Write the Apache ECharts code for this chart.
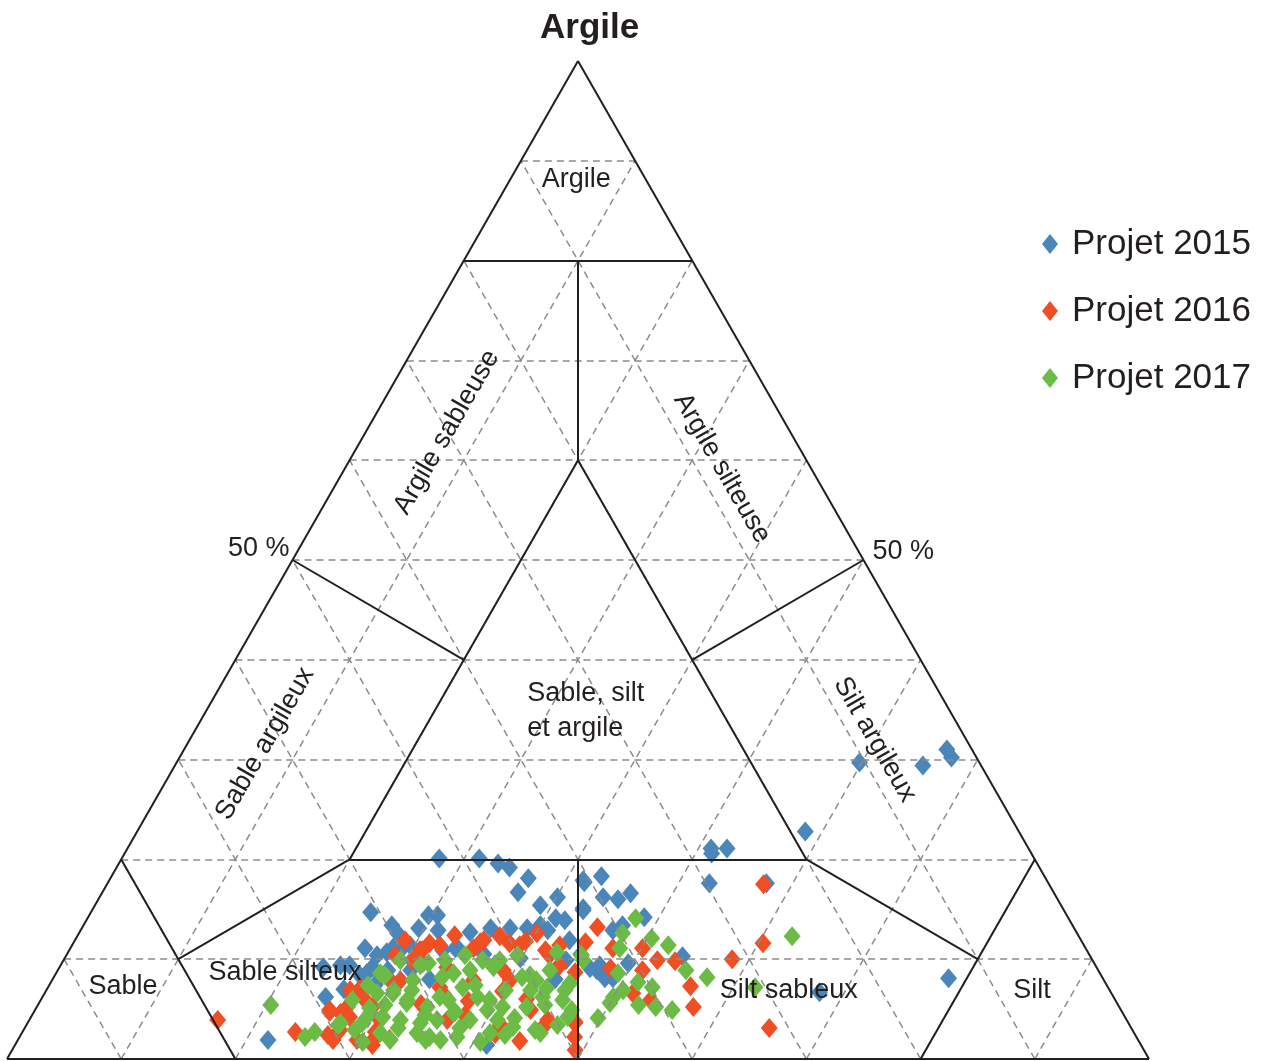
<!DOCTYPE html>
<html>
<head>
<meta charset="utf-8">
<title>Triangle des textures</title>
<script src="https://cdn.jsdelivr.net/npm/echarts@6/dist/echarts.min.js"></script>
<style>
  html, body { margin: 0; padding: 0; background: #fff; }
  #chart { width: 1274px; height: 1061px; }
</style>
</head>
<body>
<div id="chart"></div>
<script>
// points are [silt %, argile %] (sable = 100 - silt - argile)
var projet2015 = [
  [59.8,29.7],[65.5,29.4],[66.8,31.0],[67.6,30.2],[58.5,22.8],[51.1,21.1],[52.5,21.1],[51.4,20.6],
  [52.7,17.6],[57.7,17.6],[78.4,8.1],[67.8,6.7],
  [27.8,20.1],[31.3,20.1],[33.2,19.6],[34.4,19.2],[36.6,18.1],[36.4,16.7],[40.1,16.2],[41.5,17.9],
  [42.9,15.1],[24.5,14.7],[27.0,13.4],[27.9,12.6],[29.5,13.1],[29.7,14.4],[30.5,14.4],[31.3,12.9],
  [35.8,13.1],[39.0,13.1],[40.0,13.4],[40.9,12.9],[41.9,13.9],[43.3,11.9],[25.8,11.1],[27.2,10.4],
  [27.9,10.7],[29.0,10.9],[27.4,9.2],[28.9,8.9],[30.9,8.9],[27.2,8.6],[31.6,9.6],[32.7,10.9],
  [33.8,11.2],[39.9,10.1],[43.6,9.1],[41.3,1.4],[21.9,1.9],
  [41.7,17.7],[42.9,18.3],[44.1,16.2],[45.5,16.0],[46.3,16.6],[43.0,14.9],[48.7,14.2],[47.2,13.4],
  [54.0,10.3],[47.2,8.9],[46.5,9.1],[49.6,9.6],[48.3,8.1],[46.6,12.9],[23.1,9.2],[24.5,9.4],
  [26.0,7.0],[24.8,6.2],[28.5,7.5],[33.0,8.0],[36.5,10.5],[38.0,9.5],[45.0,10.5],[44.0,8.0],
  [25.3,9.4],[26.7,8.4],[28.5,7.4],[28.3,11.4],[29.6,11.4],[33.7,11.1],[34.2,12.7],[37.5,13.1],
  [39.0,15.4],[41.0,14.1],[44.0,9.9],[47.2,9.4],[49.0,8.1]
];
var projet2016 = [
  [57.5,17.5],[45.1,13.2],[44.8,11.7],[50.1,11.1],[52.0,9.9],[53.6,9.8],[56.2,7.3],[57.5,5.2],
  [58.5,10.0],[60.4,11.6],[65.2,3.1],[53.4,5.9],[51.5,6.6],[48.6,2.2],[47.9,3.6],[48.3,9.1],
  [51.2,8.9],[47.5,11.1],
  [40.1,12.6],[38.2,11.6],[35.8,11.9],[35.3,11.1],[31.2,11.6],[30.9,10.9],[30.5,9.9],[33.9,9.2],
  [39.0,8.9],[30.5,7.9],[29.6,7.9],[27.4,7.1],[27.2,6.2],[27.2,5.2],[26.9,4.6],[29.4,5.2],
  [30.7,3.9],[30.9,2.7],[34.3,7.2],[36.6,3.9],[36.9,7.9],[43.4,4.9],[45.4,3.9],[42.3,10.4],
  [45.4,8.7],[47.9,3.7],[25.8,4.9],[27.6,1.9],[38.3,4.1],
  [16.5,3.9],[23.9,2.7],[25.9,4.7],[26.9,2.4],[27.9,4.2],[31.1,1.9],
  [33.5,5.5],[35.0,6.5],[37.5,5.8],[40.0,6.8],[41.5,2.5],[44.0,1.8],[32.5,2.0],[39.5,11.8],
  [37.0,12.3],[42.5,6.0],
  [28.9,11.9],[32.2,11.4],[33.0,12.4],[35.6,11.7],[39.2,11.4],[41.7,10.9],[42.7,11.4],[26.6,6.9],
  [28.4,5.9],[27.7,2.9],[31.3,1.4],[29.7,1.9],[30.7,10.9],[28.8,10.4],[37.9,4.4],[41.5,3.4],
  [45.4,3.4],[40.1,7.9],[43.7,9.4],[49.3,0.9]
];
var projet2017 = [
  [20.4,5.4],[25.0,2.2],[25.6,2.7],[27.3,3.4],[29.3,3.6],[30.3,1.7],[31.4,2.6],[29.1,6.6],
  [29.2,5.1],[30.5,6.6],[32.2,5.6],
  [32.1,9.6],[34.9,10.4],[36.7,9.9],[38.0,9.2],[41.0,8.2],[42.4,7.9],[43.7,7.1],[42.8,10.7],
  [45.1,10.4],[45.5,7.6],[47.0,4.2],[45.4,2.6],[42.7,3.2],[41.0,3.9],[38.1,6.2],[36.3,7.2],
  [34.8,8.6],[34.8,6.2],[34.2,5.2],[34.4,3.6],[32.1,5.9],[30.4,6.9],[29.5,4.6],[27.4,3.6],
  [30.8,4.2],[32.5,3.9],[34.6,2.6],[35.7,3.9],[36.8,4.6],[38.6,3.9],[39.6,4.9],[40.8,5.2],
  [42.9,5.2],[43.8,6.2],[42.4,6.9],[34.0,8.2],[31.6,7.9],[35.9,2.2],[38.3,2.2],[41.0,2.6],
  [45.7,5.9],[28.4,8.6],
  [48.0,14.1],[47.6,12.6],[50.4,12.1],[52.2,11.4],[55.0,8.9],[57.2,8.2],[62.6,12.3],[61.9,7.2],
  [49.7,4.1],[50.0,5.6],[50.0,6.2],[50.5,6.9],[51.4,7.7],[52.6,5.4],[52.9,7.2],[54.2,5.2],
  [55.8,4.9],[45.5,9.9],[49.2,8.6],[48.1,11.1],
  [27.3,5.9],[27.9,7.4],[30.4,5.4],[32.7,3.1],[32.0,6.9],[34.4,4.4],[35.7,5.9],[38.1,3.1],
  [37.3,7.4],[39.3,5.9],[40.2,6.9],[42.4,4.1],[41.6,8.4],[44.4,5.4],[46.5,3.4],[45.4,6.9],
  [47.0,4.9],[31.5,9.4],[33.4,9.9],[38.2,9.9],[39.5,10.4],[36.1,8.9],[32.6,1.9],[29.0,2.9],
  [37.0,1.9],[42.4,2.4],[40.6,1.7],[36.9,4.7],[44.8,2.9],[43.1,8.9],[29.5,9.9],[28.9,8.4],
  [35.7,1.9]
];
var seriesNames = ['Projet 2015', 'Projet 2016', 'Projet 2017'];

// texture classes, label anchor [silt, argile]
var zoneNames = ['Argile', 'Argile sableuse', 'Argile silteuse', 'Sable, silt\net argile', 'Sable argileux',
  'Silt argileux', 'Sable', 'Sable silteux', 'Silt sableux', 'Silt'];
var zoneAnchors = [[5.8,88.1],[7.1,62.8],[33.0,59.2],[28.1,34.9],[6.8,31.6],
  [60.0,32.0],[6.5,7.3],[20.0,8.7],[65.0,6.9],[86.3,6.9]];
var zoneRotate = [0, 60, -60, 0, 60, -60, 0, 0, 0, 0];

// class boundaries, each a segment [silt, argile] -> [silt, argile]
var borders = [
  [[0,0],[100,0]], [[100,0],[0,100]], [[0,100],[0,0]],
  [[0,80],[20,80]], [[10,80],[20,60]],
  [[20,20],[60,20]], [[60,20],[20,60]], [[20,60],[20,20]],
  [[0,50],[20,40]], [[50,50],[40,40]],
  [[40,20],[50,0]], [[0,20],[20,0]], [[10,10],[20,20]],
  [[80,20],[80,0]], [[60,20],[80,10]]
];

var colors = ['#4a86ba', '#f04e23', '#6bbb45'];
var ink = '#231f20';
var font = 'Liberation Sans, Arial, sans-serif';

function toXY(p) { return [p[0] + p[1] / 2, p[1]]; }

// dashed 10 % grid in the three directions
var gridSegs = [];
for (var c = 10; c < 100; c += 10) {
  gridSegs.push({ coords: [toXY([0, c]), toXY([100 - c, c])] });
  gridSegs.push({ coords: [toXY([c, 0]), toXY([c, 100 - c])] });
  gridSegs.push({ coords: [toXY([100 - c, 0]), toXY([0, 100 - c])] });
}

var zoneData = zoneNames.map(function (n, i) {
  var d = { name: n, value: toXY(zoneAnchors[i]), label: { rotate: zoneRotate[i] } };
  if (i == 3) d.label.align = 'left';
  return d;
});
zoneData.push({ name: '50 %', value: toXY([0, 50]), label: { align: 'right', offset: [-3, -11] } });
zoneData.push({ name: '50 %', value: toXY([50, 50]), label: { align: 'left', offset: [9, -8] } });

function pointSeries(i, data) {
  return {
    name: seriesNames[i], type: 'scatter', symbol: 'diamond', symbolSize: [17, 20], z: 2,
    itemStyle: { color: colors[i], opacity: 1 }, data: data.map(toXY)
  };
}

var myChart = echarts.init(document.getElementById('chart'));
var option = {
  animation: false,
  title: {
    text: 'Argile',
    left: 535,
    top: 6,
    textStyle: { fontSize: 35, fontWeight: 'bold', color: ink, fontFamily: font }
  },
  legend: {
    orient: 'vertical',
    left: 1037,
    top: 219,
    itemWidth: 16,
    itemHeight: 20,
    itemGap: 27,
    icon: 'diamond',
    data: seriesNames,
    textStyle: { fontSize: 35, lineHeight: 40, color: ink, fontFamily: font, padding: [0, 0, 0, 9] }
  },
  grid: { left: 7, top: 61, width: 1142, height: 998 },
  xAxis: { type: 'value', min: 0, max: 100, show: false },
  yAxis: { type: 'value', min: 0, max: 100, show: false },
  series: [
    pointSeries(0, projet2015),
    pointSeries(1, projet2016),
    pointSeries(2, projet2017),
    {
      type: 'lines', coordinateSystem: 'cartesian2d', silent: true, z: 3,
      lineStyle: { color: '#8c8c8c', width: 1.5, type: [7, 5], opacity: 1 },
      data: gridSegs
    },
    {
      type: 'lines', coordinateSystem: 'cartesian2d', silent: true, z: 4,
      lineStyle: { color: ink, width: 2, opacity: 1 },
      data: borders.map(function (b) { return { coords: [toXY(b[0]), toXY(b[1])] }; })
    },
    {
      type: 'scatter', symbolSize: 0, silent: true, z: 5,
      itemStyle: { opacity: 1 },
      label: {
        show: true, position: 'inside', formatter: '{b}',
        fontSize: 27, lineHeight: 35, color: ink, fontFamily: font
      },
      data: zoneData
    }
  ]
};
myChart.setOption(option);
</script>
</body>
</html>
